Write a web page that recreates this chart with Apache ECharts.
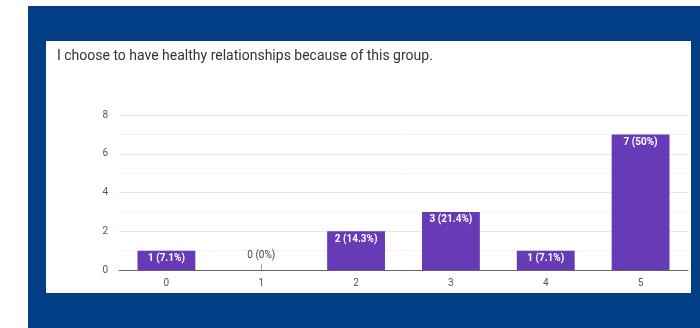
<!DOCTYPE html>
<html>
<head>
<meta charset="utf-8">
<script src="https://cdn.jsdelivr.net/npm/echarts@6/dist/echarts.min.js"></script>
<style>
  html, body { margin: 0; padding: 0; background: #ffffff; }
  #frame { position: absolute; left: 28px; top: 6px; width: 672px; height: 322px; background: #013e85; }
  #panel { position: absolute; left: 46px; top: 41px; width: 645px; height: 252px; background: #ffffff; }
  #chart { width: 645px; height: 252px; }
</style>
</head>
<body>
<div id="frame"></div>
<div id="panel"><div id="chart"></div></div>
<script>
// Survey responses on a 0–5 scale
const question = 'I choose to have healthy relationships because of this group.';
const categories = ['0', '1', '2', '3', '4', '5'];
const counts = [1, 0, 2, 3, 1, 7];
const percents = ['7.1%', '0%', '14.3%', '21.4%', '7.1%', '50%'];
const yTicks = [0, 2, 4, 6, 8];

const barColor = '#673ab7';

const chart = echarts.init(document.getElementById('chart'), null, { renderer: 'canvas' });

const seriesData = counts.map((v, i) => {
  const text = v + ' (' + percents[i] + ')';
  if (v === 0) {
    return {
      value: v,
      label: {
        show: true, position: 'top', distance: 10, color: '#444',
        fontSize: 10, formatter: text
      }
    };
  }
  return {
    value: v,
    label: {
      show: true, position: 'insideTop', distance: 3, color: '#ffffff',
      fontSize: 10, fontWeight: 'bold', formatter: text
    }
  };
});

chart.setOption({
  animation: false,
  textStyle: { fontFamily: 'Roboto, Arial, sans-serif' },
  title: {
    text: question,
    left: 6,
    top: 3,
    textStyle: { fontSize: 14, fontWeight: 'normal', color: '#333333', fontFamily: 'Roboto, Arial, sans-serif' }
  },
  grid: { left: 73, right: 3, top: 74, bottom: 23 },
  xAxis: {
    type: 'category',
    data: categories,
    axisTick: { show: false },
    axisLine: { lineStyle: { color: '#666666', width: 1 } },
    axisLabel: { color: '#555555', fontSize: 10, margin: 8 }
  },
  yAxis: {
    type: 'value',
    min: yTicks[0],
    max: yTicks[yTicks.length - 1],
    interval: 2,
    axisLine: { show: false },
    axisTick: { show: false },
    axisLabel: { color: '#555555', fontSize: 10, margin: 11 },
    splitLine: { lineStyle: { color: '#e6e6e6', width: 1 } },
    minorTick: { show: false, splitNumber: 2 },
    minorSplitLine: { show: true, lineStyle: { color: '#f2f2f2', width: 1 } }
  },
  series: [
    {
      type: 'bar',
      data: seriesData,
      barWidth: '61%',
      itemStyle: { color: barColor },
      markLine: {
        silent: true,
        symbol: 'none',
        label: { show: false },
        lineStyle: { color: '#999999', width: 1, type: 'solid' },
        data: counts.map((v, i) => v === 0 ? [
          { coord: [categories[i], 0] },
          { coord: [categories[i], 0.3] }
        ] : null).filter(Boolean)
      }
    }
  ]
});
</script>
</body>
</html>
